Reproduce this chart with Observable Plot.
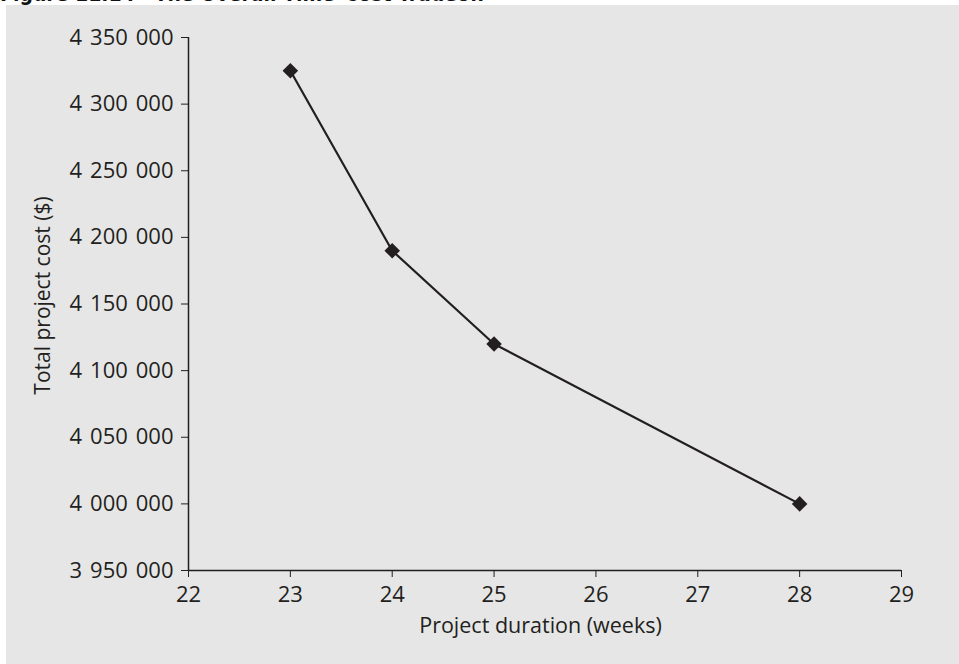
<!DOCTYPE html>
<html>
<head>
<meta charset="utf-8">
<script src="https://cdn.jsdelivr.net/npm/d3@7"></script>
<script src="https://cdn.jsdelivr.net/npm/@observablehq/plot@0.6"></script>
<style>
  html, body { margin: 0; padding: 0; background: #ffffff; width: 959px; height: 664px; overflow: hidden; }
  #wrap { position: relative; width: 959px; height: 664px; }
  #title { position: absolute; left: 0; top: -18px; font-family: "DejaVu Sans Condensed", "DejaVu Sans", sans-serif; font-weight: bold; font-size: 21px; color: #111; white-space: pre; }
  #chart { position: absolute; left: 6px; top: 5px; width: 953px; height: 659px; background: #e6e6e6; }
</style>
</head>
<body>
<div id="wrap">
  <div id="title">Figure 11.14   The Overall Time–Cost Tradeoff</div>
  <div id="chart"></div>
</div>
<script>
const durations = [23, 24, 25, 28];
const costs = [4325000, 4190000, 4120000, 4000000];
const xTicks = [22, 23, 24, 25, 26, 27, 28, 29];
const yTicks = [3950000, 4000000, 4050000, 4100000, 4150000, 4200000, 4250000, 4300000, 4350000];
const xLabel = "Project duration (weeks)";
const yLabel = "Total project cost ($)";

const data = durations.map((d, i) => ({duration: d, cost: costs[i]}));
const fmt = d3.formatLocale({thousands: " \u200A", grouping: [3], decimal: "."}).format(",");
const ink = "#231f20";
const font = "'Open Sans', Lato, sans-serif";

const chart = Plot.plot({
  width: 953,
  height: 659,
  marginLeft: 182,
  marginRight: 58,
  marginTop: 32,
  marginBottom: 94,
  style: {background: "transparent", fontFamily: font, fontSize: "22px", color: ink, overflow: "visible"},
  x: {domain: [22, 29]},
  y: {domain: [3950000, 4350000]},
  marks: [
    Plot.axisX({ticks: xTicks, tickSize: 7, tickPadding: 9, tickFormat: d => String(d), label: null, stroke: ink, fill: ink, fontSize: 22}),
    Plot.axisY({ticks: yTicks, tickSize: 7, tickPadding: 8, tickFormat: fmt, label: null, stroke: ink, fill: ink, fontSize: 22}),
    Plot.ruleX([22], {y1: 3950000, y2: 4350000, stroke: ink, strokeWidth: 1.5}),
    Plot.ruleY([3950000], {x1: 22, x2: 29, stroke: ink, strokeWidth: 1.5}),
    Plot.line(data, {x: "duration", y: "cost", stroke: ink, strokeWidth: 2.2}),
    Plot.dot(data, {x: "duration", y: "cost", symbol: "diamond2", r: 7, fill: ink, stroke: "none"}),
    Plot.text([xLabel], {frameAnchor: "bottom", dx: -4.5, dy: 56, lineAnchor: "middle", fill: ink, fontSize: 21.5}),
    Plot.text([yLabel], {frameAnchor: "left", rotate: -90, dx: -145, dy: -8.5, lineAnchor: "middle", textAnchor: "middle", fill: ink, fontSize: 21})
  ]
});
document.getElementById("chart").appendChild(chart);
</script>
</body>
</html>
